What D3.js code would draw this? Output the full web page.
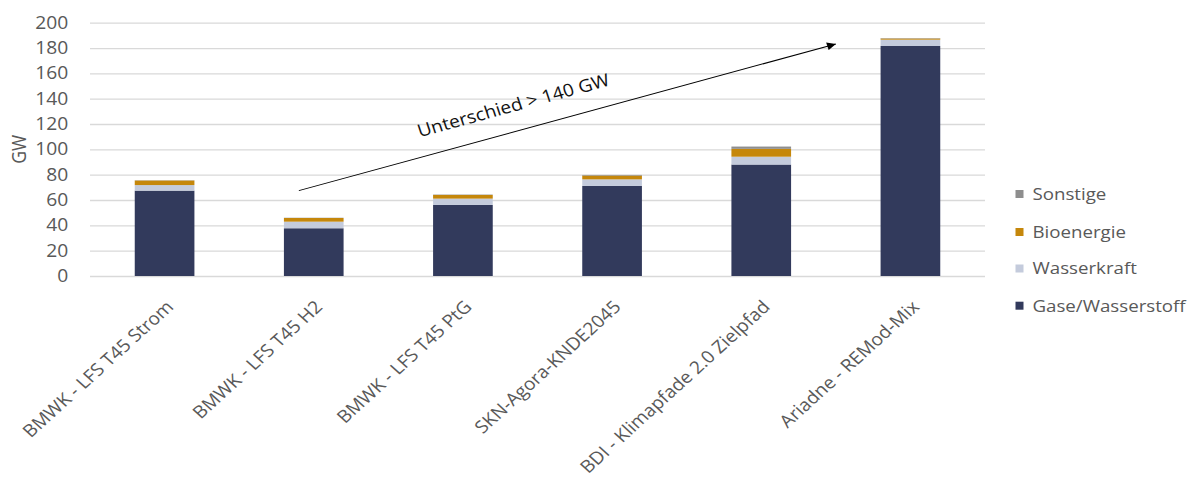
<!DOCTYPE html>
<html>
<head>
<meta charset="utf-8">
<script src="https://cdn.jsdelivr.net/npm/d3@7"></script>
<style>
  html, body { margin: 0; padding: 0; background: #fff; }
  svg { display: block; font-family: "Open Sans", "Noto Sans", sans-serif; }
</style>
</head>
<body>
<svg id="chart" width="1191" height="479"></svg>
<script>
// ---- data ----
const categories = [
  "BMWK - LFS T45 Strom",
  "BMWK - LFS T45 H2",
  "BMWK - LFS T45 PtG",
  "SKN-Agora-KNDE2045",
  "BDI - Klimapfade 2.0 Zielpfad",
  "Ariadne - REMod-Mix"
];
const seriesNames = ["Gase/Wasserstoff", "Wasserkraft", "Bioenergie", "Sonstige"];
const gase      = [67.4, 37.7, 56.1, 71.1, 88.0, 181.6];
const wasser    = [4.4, 5.2, 5.0, 5.2, 6.2, 5.0];
const bio       = [3.6, 2.9, 2.9, 3.0, 6.2, 0.9];
const sonstige  = [0.2, 0.2, 0.3, 0.5, 1.8, 0.3];
const yTicks = [0, 20, 40, 60, 80, 100, 120, 140, 160, 180, 200];
const yLabel = "GW";
const annotationText = "Unterschied > 140 GW";
const arrowFrom = { cat: 0.9, value: 67.4 };
const arrowTo   = { cat: 4.5, value: 183.2 };
const labelAt   = { cat: 1.71, value: 109.5 };

(function () {
// ---- styling ----
const colors = {
  "Gase/Wasserstoff": "#323a5c",
  "Wasserkraft": "#c4cbdc",
  "Bioenergie": "#c5870b",
  "Sonstige": "#8e8e8e"
};
const SX = 1.1; // horizontal stretch of the picture
const FS = 17.5;
const textColor = "#595959";

const svg = d3.select("#chart");
const root = svg.append("g").attr("transform", `scale(${SX},1)`);

const mLeft = 90 / SX, mRight = 985 / SX, mTop = 22.7, mBottom = 276;

const x = d3.scaleBand().domain(categories).range([mLeft, mRight])
  .paddingInner(0.6).paddingOuter(0.3);
const y = d3.scaleLinear().domain([0, 200]).range([mBottom, mTop]);
const catX = i => x(categories[0]) + x.bandwidth() / 2 + i * x.step();

// gridlines + y axis
const yAxis = root.append("g")
  .attr("transform", `translate(${mLeft},0)`)
  .call(d3.axisLeft(y).tickValues(yTicks).tickSize(-(mRight - mLeft)).tickPadding(19.7));
yAxis.select(".domain").remove();
yAxis.selectAll(".tick line").attr("stroke", "#d9d9d9").attr("stroke-width", 1.3);
yAxis.selectAll(".tick text").attr("fill", textColor).style("font-size", FS + "px")
  .style("font-family", "'Open Sans', sans-serif");

// stacked bars
const table = categories.map((c, i) => ({
  cat: c,
  "Gase/Wasserstoff": gase[i],
  "Wasserkraft": wasser[i],
  "Bioenergie": bio[i],
  "Sonstige": sonstige[i]
}));
const stacked = d3.stack().keys(seriesNames)(table);
root.append("g").selectAll("g").data(stacked).join("g")
  .attr("fill", d => colors[d.key])
  .selectAll("rect").data(d => d).join("rect")
  .attr("x", d => x(d.data.cat))
  .attr("width", x.bandwidth())
  .attr("y", d => y(d[1]))
  .attr("height", d => y(d[0]) - y(d[1]));

// x axis labels
const xAxis = root.append("g")
  .attr("transform", `translate(0,${mBottom})`)
  .call(d3.axisBottom(x).tickSize(0));
xAxis.select(".domain").remove();
xAxis.selectAll(".tick text")
  .attr("x", 0).attr("y", 0).attr("dy", 0)
  .attr("text-anchor", "end")
  .attr("transform", "translate(9,32) rotate(-45)")
  .attr("fill", textColor)
  .style("font-size", FS + "px")
  .style("font-family", "'Open Sans', sans-serif");

// y axis title
root.append("text")
  .attr("transform", `translate(${19 / SX},${y(100)}) rotate(-90)`)
  .attr("text-anchor", "middle").attr("dy", "0.35em")
  .attr("fill", textColor).style("font-size", FS + "px")
  .text(yLabel);

// arrow annotation
const defs = svg.append("defs");
defs.append("marker").attr("id", "ah")
  .attr("viewBox", "0 0 10 10").attr("refX", 10).attr("refY", 5)
  .attr("markerWidth", 11).attr("markerHeight", 8).attr("markerUnits", "userSpaceOnUse")
  .attr("orient", "auto")
  .append("path").attr("d", "M0,0 L10,5 L0,10 Z").attr("fill", "#000");
const x1 = catX(arrowFrom.cat), y1 = y(arrowFrom.value);
const x2 = catX(arrowTo.cat), y2 = y(arrowTo.value);
root.append("line")
  .attr("x1", x1).attr("y1", y1).attr("x2", x2).attr("y2", y2)
  .attr("stroke", "#000").attr("stroke-width", 1)
  .attr("marker-end", "url(#ah)");
const ang = Math.atan2(y2 - y1, x2 - x1) * 180 / Math.PI;
root.append("text")
  .attr("transform", `translate(${catX(labelAt.cat)},${y(labelAt.value)}) rotate(${ang})`)
  .attr("fill", "#111").style("font-size", FS + "px")
  .text(annotationText);

// legend
const legendOrder = ["Sonstige", "Bioenergie", "Wasserkraft", "Gase/Wasserstoff"];
const legendY = [194, 232, 268.5, 305.7];
const lg = root.append("g");
legendOrder.forEach((k, i) => {
  lg.append("rect")
    .attr("x", 1015.5 / SX).attr("y", legendY[i] - 4)
    .attr("width", 8 / SX).attr("height", 8)
    .attr("fill", colors[k]);
  lg.append("text")
    .attr("x", 1032.5 / SX).attr("y", legendY[i]).attr("dy", "0.35em")
    .attr("fill", textColor).style("font-size", "17px")
    .text(k);
});
})();
</script>
</body>
</html>
